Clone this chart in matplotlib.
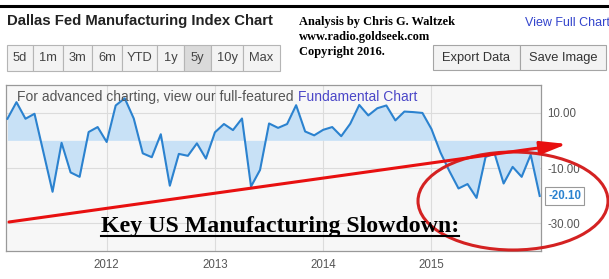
import matplotlib
matplotlib.use("Agg")
import matplotlib.pyplot as plt
from matplotlib.patches import Rectangle, Ellipse, FancyArrowPatch
from matplotlib.lines import Line2D
import numpy as np

# monthly Dallas Fed index, Jan 2011 .. Dec 2015
vals = [7.8, 13.8, 7.8, 9.6, -4.5, -18.6, -0.9, -11.6, -13.2, 3.0, 4.8, -0.6,
        12.6, 15.2, 7.9, -4.7, -6.1, 2.2, -16.4, -4.9, -5.6, -1.1, -6.6, 2.9,
        5.9, 3.7, 7.9, -16.7, -10.7, 6.1, 4.5, 5.9, 12.7, 3.2, 1.8, 3.8,
        4.8, 1.5, 6.0, 12.8, 9.0, 11.6, 12.6, 7.2, 10.4, 10.2, 9.9, 4.1,
        -4.4, -11.2, -17.4, -15.8, -20.8, -6.0, -4.8, -15.6, -9.6, -13.2, -5.2, -20.1]
start_year = 2011
year_ticks = [2012, 2013, 2014, 2015]
y_ticks = [10, -10, -30]
buttons = ["5d", "1m", "3m", "6m", "YTD", "1y", "5y", "10y", "Max"]
active_button = "5y"
credit_lines = ["Analysis by Chris G. Waltzek", "www.radio.goldseek.com", "Copyright 2016."]
headline = "Key US Manufacturing Slowdown:"

W, H = 609, 279
SANS = ["Liberation Sans", "DejaVu Sans"]
SERIF = ["Liberation Serif", "DejaVu Serif"]

def fx(px):
    return px / W

def fy(py):
    return 1 - py / H

fig = plt.figure(figsize=(W / 100, H / 100), dpi=100)
fig.patch.set_facecolor("white")

# plot area
ax = fig.add_axes([fx(6), fy(251), 535 / W, 166 / H])
ax.set_facecolor("#f7f7f7")
x = np.array([start_year + (i + 1) / 12 for i in range(len(vals))])
ax.fill_between(x, vals, 0, color="#c8e1f6", lw=0)
ax.plot(x, vals, color="#2b82cf", lw=1.5, zorder=3)
ax.set_xlim(2011.07, 2016.012)
ax.set_ylim(-40, 20)
ax.set_xticks(year_ticks)
ax.set_xticklabels([str(y) for y in year_ticks])
ax.set_yticks(y_ticks)
ax.set_yticklabels(["%.2f" % v for v in y_ticks])
ax.yaxis.tick_right()
ax.tick_params(axis="both", length=0, colors="#555555", labelsize=8.3)
ax.tick_params(axis="y", pad=4.5)
ax.tick_params(axis="x", pad=6)
for lab in ax.get_xticklabels() + ax.get_yticklabels():
    lab.set_family(SANS)
ax.grid(True, color="#dcdcdc", lw=0.8)
ax.set_axisbelow(True)
for s in ax.spines.values():
    s.set_color("#999999")
    s.set_linewidth(0.9)

# last value label
ax.annotate("%.2f" % vals[-1], xy=(x[-1], vals[-1]), xytext=(6, 0),
            textcoords="offset points", annotation_clip=False,
            ha="left", va="center", fontsize=8.3, fontweight="bold", color="#2b82cf",
            family=SANS,
            bbox=dict(boxstyle="square,pad=0.25", fc="white", ec="#999999", lw=0.8))

# header
fig.add_artist(Line2D([0, 1], [fy(6), fy(6)], color="black", lw=2.2, transform=fig.transFigure))
fig.text(fx(7), fy(21), "Dallas Fed Manufacturing Index Chart", fontsize=10.7,
         fontweight="bold", color="#222222", family=SANS, va="center", ha="left")
for i, line in enumerate(credit_lines):
    fig.text(fx(299), fy(22 + 15 * i), line, fontsize=8.9, fontweight="bold",
             color="black", family=SERIF, va="center", ha="left")
fig.text(fx(525), fy(23), "View Full Chart", fontsize=9, color="#3344cc",
         family=SANS, va="center", ha="left")

edges = [7, 33, 63, 92, 122, 157, 184, 211, 243, 280]
for i, b in enumerate(buttons):
    fc = "#dadada" if b == active_button else "#f3f3f3"
    fig.add_artist(Rectangle((fx(edges[i]), fy(71)), fx(edges[i + 1] - edges[i]), 26 / H,
                             transform=fig.transFigure, fc=fc, ec="#b5b5b5", lw=0.8))
    fig.text(fx((edges[i] + edges[i + 1]) / 2), fy(58), b, fontsize=9.3, color="#444444",
             family=SANS, ha="center", va="center")

for (l, r), lab in zip([(433, 520), (520, 606)], ["Export Data", "Save Image"]):
    fig.add_artist(Rectangle((fx(l), fy(70)), fx(r - l), 25 / H, transform=fig.transFigure,
                             fc="#f3f3f3", ec="#a5a5a5", lw=0.8))
    fig.text(fx((l + r) / 2), fy(57.5), lab, fontsize=9.3, color="#333333",
             family=SANS, ha="center", va="center")

# note inside chart
fig.canvas.draw()
r = fig.canvas.get_renderer()
t1 = fig.text(fx(17), fy(97), "For advanced charting, view our full-featured", fontsize=10,
              color="#555555", family=SANS, va="center", ha="left")
bb = t1.get_window_extent(r)
fig.text((bb.x1 + 4) / W, fy(97), "Fundamental Chart", fontsize=10,
         color="#4b47c8", family=SANS, va="center", ha="left")

# annotations
t2 = fig.text(fx(101), fy(232), headline, fontsize=17.2, fontweight="bold",
              color="black", family=SERIF, va="baseline", ha="left")
bb2 = t2.get_window_extent(r)
fig.add_artist(Line2D([bb2.x0 / W, bb2.x1 / W], [fy(235.5), fy(235.5)], color="black",
                      lw=1.5, transform=fig.transFigure))

fig.add_artist(Ellipse((fx(513), fy(201)), 190 / W, 98 / H, transform=fig.transFigure,
                       fill=False, ec="#d42222", lw=2.2))
fig.add_artist(FancyArrowPatch((fx(9), fy(222)), (fx(567), fy(144)),
                               transform=fig.transFigure, color="#e81010", lw=2.2,
                               arrowstyle="-|>,head_length=16,head_width=4",
                               shrinkA=0, shrinkB=0))

fig.savefig("out.png", dpi=100)
